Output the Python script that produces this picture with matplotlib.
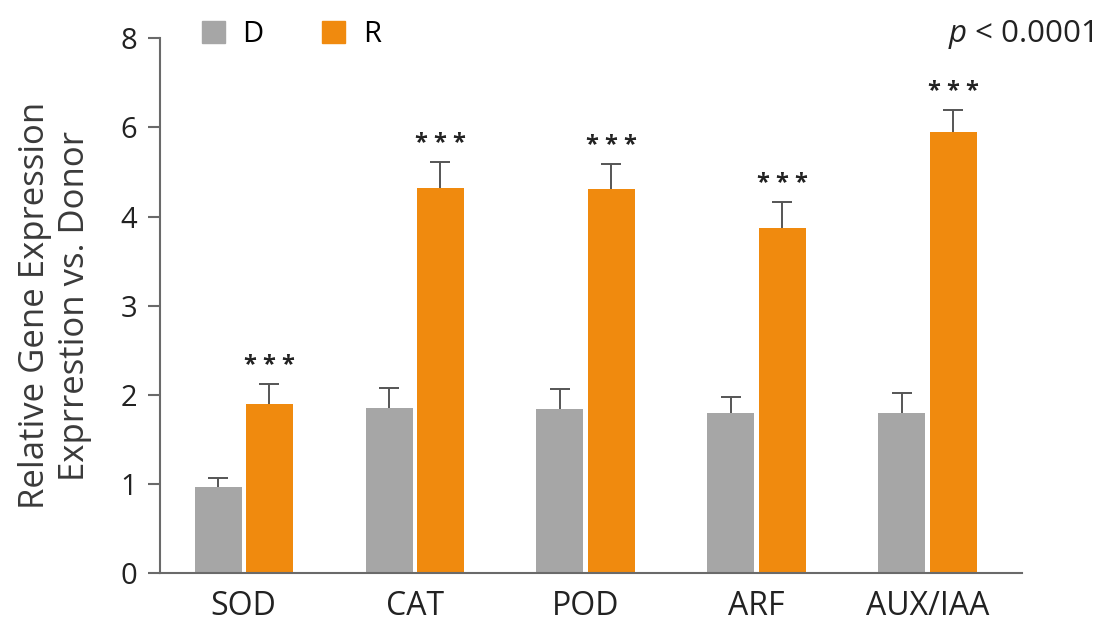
import numpy as np
import matplotlib
matplotlib.use('Agg')
import matplotlib.pyplot as plt
from matplotlib.patches import Patch

plt.rcParams['font.family'] = ['Open Sans', 'DejaVu Sans']
plt.rcParams['mathtext.fontset'] = 'custom'
plt.rcParams['mathtext.it'] = 'Open Sans:italic'
plt.rcParams['mathtext.rm'] = 'Open Sans'

genes = ['SOD', 'CAT', 'POD', 'ARF', 'AUX/IAA']
donor = [0.96, 1.85, 1.84, 1.80, 1.80]
donor_err = [0.11, 0.23, 0.23, 0.17, 0.22]
recip = [1.90, 4.65, 4.62, 3.87, 5.90]
recip_err = [0.22, 0.58, 0.56, 0.46, 0.49]
yticks = [0, 1, 2, 3, 4, 6, 8]

GRAY = '#A6A6A6'
ORANGE = '#F08A0E'
AXIS = '#6A6A6A'
ERR = '#555555'


# axis is linear up to 4, then compressed by half above it
def fwd(y):
    y = np.asarray(y, dtype=float)
    return np.where(y <= 4, y, 4 + (y - 4) / 2)


def inv(y):
    y = np.asarray(y, dtype=float)
    return np.where(y <= 4, y, 4 + (y - 4) * 2)


fig = plt.figure(figsize=(11.02, 6.24), dpi=100)
ax = fig.add_axes([0.145, 0.0817, 0.782, 0.857])
ax.set_yscale('function', functions=(fwd, inv))

x = np.arange(len(genes))
w = 0.275
off = 0.15
ax.bar(x - off, donor, w, color=GRAY, zorder=2)
ax.bar(x + off, recip, w, color=ORANGE, zorder=2)

# upper-only error bars: stem + cap
for xs, vals, errs in [(x - off, donor, donor_err), (x + off, recip, recip_err)]:
    tops = np.array(vals) + np.array(errs)
    ax.vlines(xs, vals, tops, color=ERR, lw=1.4, zorder=3)
    ax.plot(xs, tops, ls='none', marker='_', ms=14, mew=1.4, color=ERR, zorder=3)

for xi, v, e in zip(x + off, recip, recip_err):
    ax.annotate('* * *', (xi, v + e), xytext=(0, 13), textcoords='offset points',
                ha='center', va='center', fontsize=17, fontweight='bold', color='#222222')

ax.set_xlim(-0.491, 4.55)
ax.set_ylim(0, 8)
ax.set_yticks(yticks)
ax.set_yticklabels([str(t) for t in yticks])
ax.set_xticks(x)
ax.set_xticklabels(genes)

for s in ['top', 'right']:
    ax.spines[s].set_visible(False)
for s in ['left', 'bottom']:
    ax.spines[s].set_color(AXIS)
    ax.spines[s].set_linewidth(1.5)

ax.tick_params(axis='y', direction='out', length=8.5, width=1.5, color=AXIS,
               labelsize=21, labelcolor='#222222', pad=8)
ax.tick_params(axis='x', length=0, labelsize=23, labelcolor='#222222', pad=12)

ax.set_ylabel('Relative Gene Expression\nExprrestion vs. Donor', fontsize=25,
              color='#3a3a3a', labelpad=20, linespacing=1.25)

handles = [Patch(color=GRAY, label='D'), Patch(color=ORANGE, label='R')]
ax.legend(handles=handles, ncol=2, loc='lower left', bbox_to_anchor=(0.035, 0.958),
          frameon=False, fontsize=21, handlelength=0.8, handleheight=0.8,
          handletextpad=0.6, columnspacing=2.0, borderaxespad=0)

fig.text(0.992, 0.945, r'$p$ < 0.0001', ha='right', va='center', fontsize=22.5, color='#222222')

fig.savefig('out.png', dpi=100)
